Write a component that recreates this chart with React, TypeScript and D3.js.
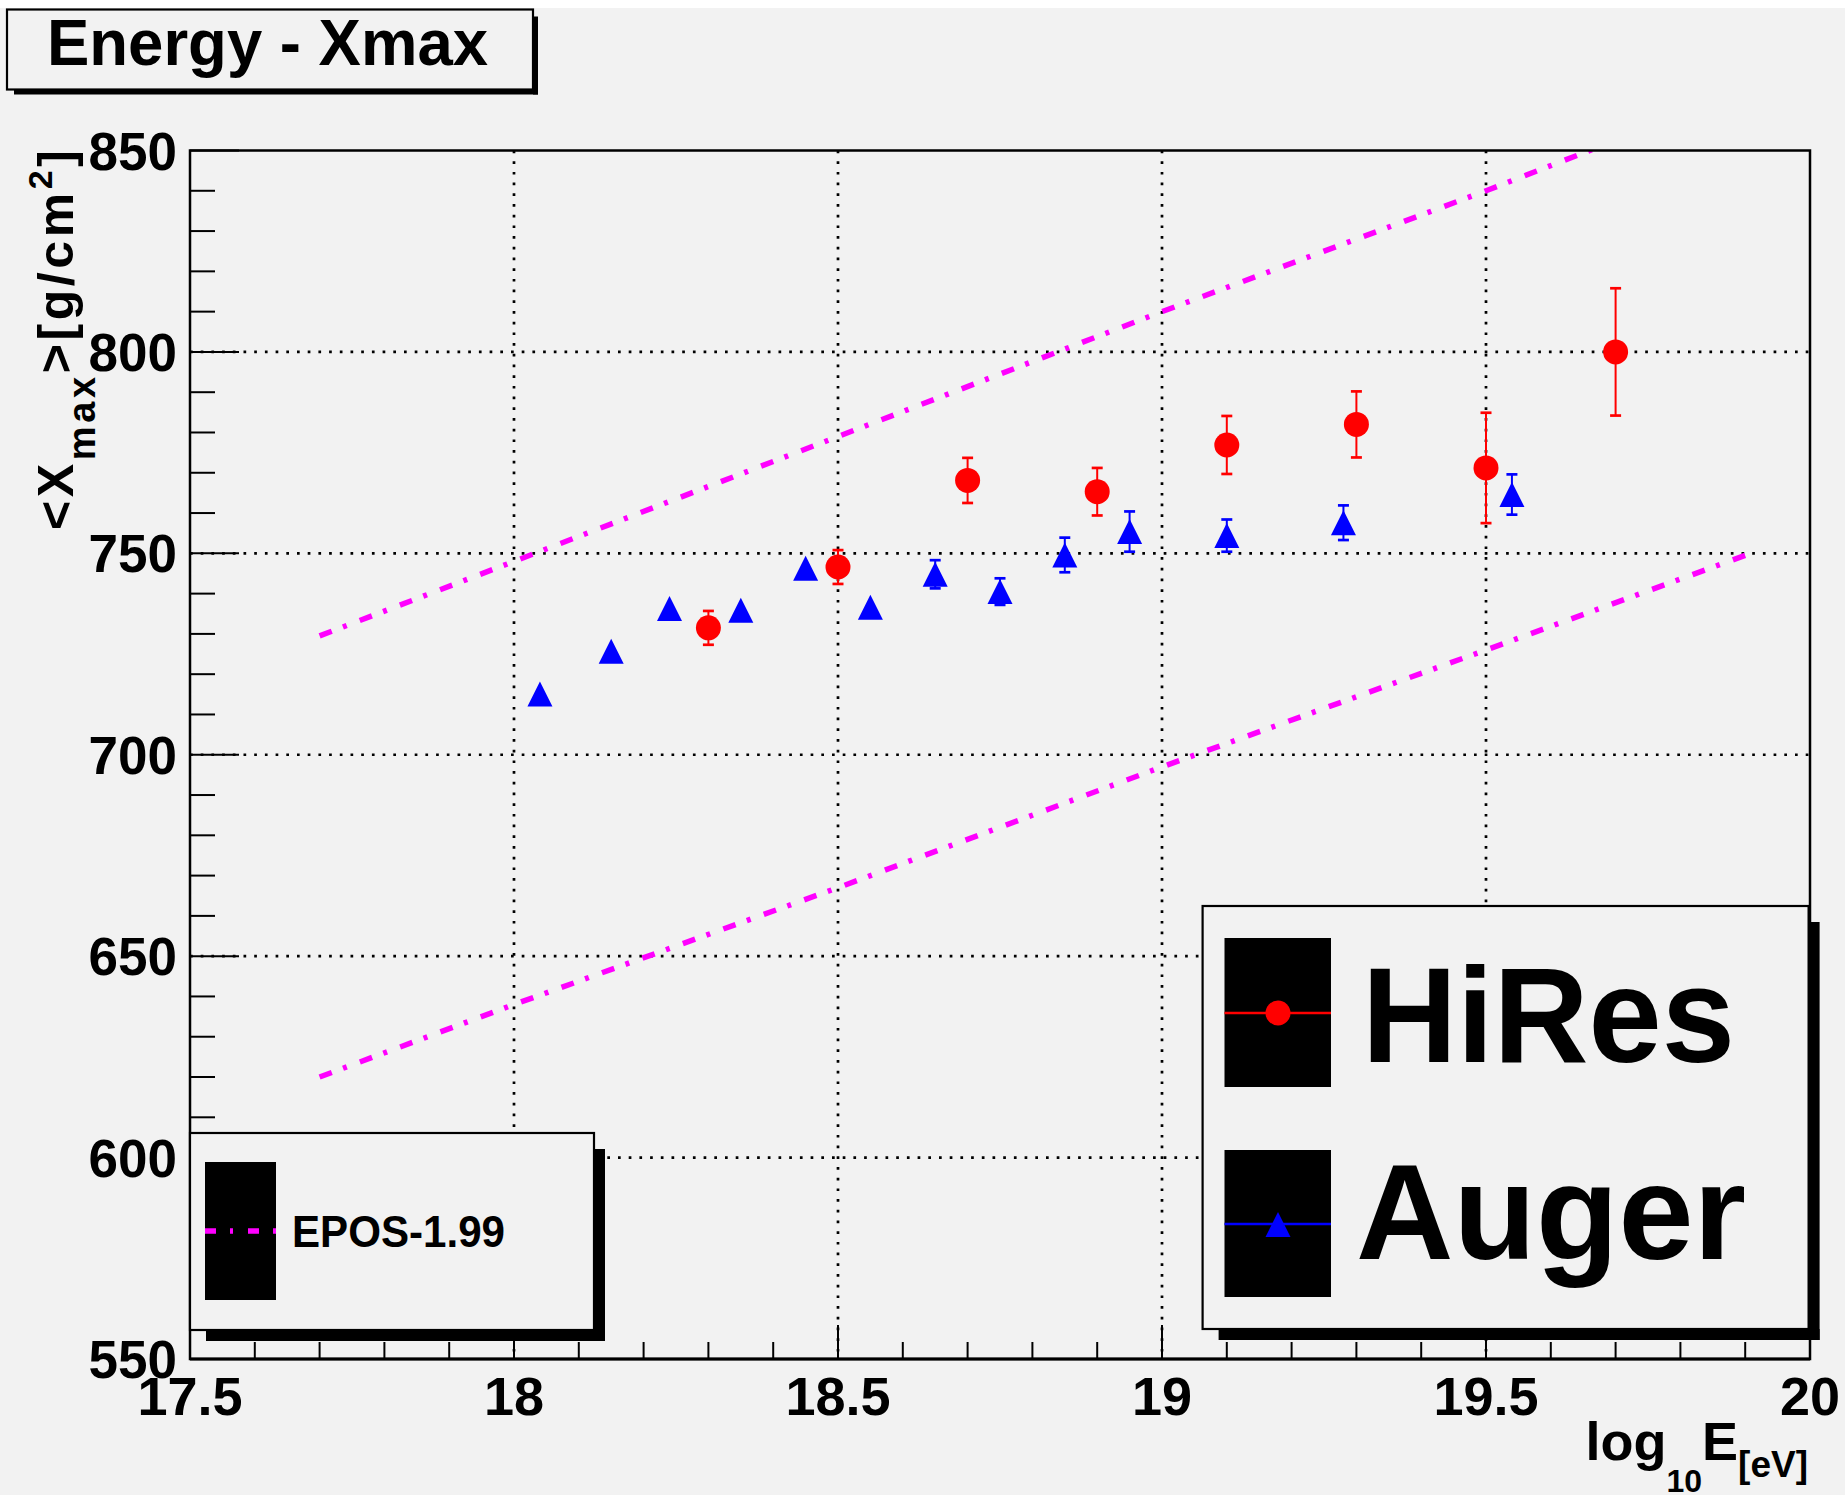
import * as d3 from "d3"

// HiRes <Xmax> vs log10(E)
const hiresE = [18.3, 18.5, 18.7, 18.9, 19.1, 19.3, 19.5, 19.7]
const hiresXmax = [731.5, 746.6, 768.1, 765.3, 776.9, 782.0, 771.2, 800.0]
const hiresErr = [4.2, 4.2, 5.6, 5.9, 7.2, 8.2, 13.7, 15.8]

// Auger <Xmax> vs log10(E)
const augerE = [18.04, 18.15, 18.24, 18.35, 18.45, 18.55, 18.65, 18.75, 18.85, 18.95, 19.1, 19.28, 19.54]
const augerXmax = [715.1, 725.7, 736.3, 735.9, 746.3, 736.6, 744.8, 740.5, 749.6, 755.4, 754.4, 757.6, 764.6]
const augerErr = [2.5, 2.5, 2.5, 2.5, 2.5, 2.5, 3.5, 3.3, 4.3, 5.0, 4.0, 4.3, 5.0]

// EPOS-1.99 predictions (proton upper, iron lower)
const eposE = [17.7, 18.0, 18.5, 19.0, 19.5, 19.9]
const eposProton = [729.5, 748, 779, 810, 840, 865]
const eposIron = [620, 638, 667, 697, 726, 749.5]

const xTickLabels = ["17.5", "18", "18.5", "19", "19.5", "20"]
const yTickLabels = ["550", "600", "650", "700", "750", "800", "850"]

const W = 1845
const H = 1495
const BG = "#f2f2f2"
const FONT = "'Liberation Sans', Arial, Helvetica, sans-serif"
const MAGENTA = "#ff00ff"
const DASHDOT = "13 12 4 14"

const L = 190, R = 1810, T = 150.5, B = 1359
const MS = 12.5 // marker half size

const x = d3.scaleLinear().domain([17.5, 20]).range([L, R])
const y = d3.scaleLinear().domain([550, 850]).range([B, T])

const triangle = (cx: number, cy: number, s: number) =>
    `M${cx},${cy - s}L${cx + s},${cy + s}L${cx - s},${cy + s}Z`

const ErrBar = ({ e, v, err, color }: { e: number, v: number, err: number, color: string }) => {
    const px = x(e)
    const top = y(v + err)
    const bot = y(v - err)
    if (y(v) - top <= MS) return null
    return (
        <g stroke={color}>
            <line x1={px} x2={px} y1={top} y2={bot} strokeWidth={2} />
            <line x1={px - 5.5} x2={px + 5.5} y1={top} y2={top} strokeWidth={2.7} />
            <line x1={px - 5.5} x2={px + 5.5} y1={bot} y2={bot} strokeWidth={2.7} />
        </g>
    )
}

const Shadowed = ({ bx, by, bw, bh, off, start }: { bx: number, by: number, bw: number, bh: number, off: number, start: number }) => (
    <g>
        <rect x={bx + bw} y={by + start} width={off} height={bh - start + off} fill="black" />
        <rect x={bx + start} y={by + bh} width={bw - start + off} height={off} fill="black" />
        <rect x={bx} y={by} width={bw} height={bh} fill={BG} stroke="black" strokeWidth={2.2} />
    </g>
)

export default function App() {
    const line = d3.line<number>().x((_, i) => x(eposE[i])).y((d) => y(d))
    const xMajor = x.ticks(5)
    const xMinor = x.ticks(25)
    const yMajor = y.ticks(6)
    const yMinor = y.ticks(30)
    const isXMajor = (v: number) => Math.abs(v * 2 - Math.round(v * 2)) < 1e-6
    const isYMajor = (v: number) => Math.abs(v / 50 - Math.round(v / 50)) < 1e-6

    return (
        <svg width={W} height={H} style={{ position: "absolute", left: 0, top: 0, display: "block" }} fontFamily={FONT} fontWeight="bold">
            <rect x={0} y={0} width={W} height={H} fill="white" />
            <rect x={0} y={8} width={W} height={H - 8} fill={BG} />
            <defs>
                <clipPath id="frame">
                    <rect x={L} y={T} width={R - L} height={B - T} />
                </clipPath>
            </defs>

            {/* grid */}
            <g stroke="black" strokeWidth={2.7} strokeDasharray="2.7 8">
                {xMajor.filter((v) => v > 17.5 && v < 20).map((v) => (
                    <line key={"gx" + v} x1={x(v)} x2={x(v)} y1={T} y2={B} />
                ))}
                {yMajor.filter((v) => v > 550 && v < 850).map((v) => (
                    <line key={"gy" + v} x1={L} x2={R} y1={y(v)} y2={y(v)} />
                ))}
            </g>

            {/* ticks */}
            <g stroke="black" strokeWidth={2}>
                {xMinor.map((v) => (
                    <line key={"tx" + v} x1={x(v)} x2={x(v)} y1={B} y2={B - (isXMajor(v) ? 34 : 17)} />
                ))}
                {yMinor.map((v) => (
                    <line key={"ty" + v} x1={L} x2={L + (isYMajor(v) ? 49 : 25)} y1={y(v)} y2={y(v)} />
                ))}
            </g>

            {/* EPOS lines */}
            <g clipPath="url(#frame)" fill="none" stroke={MAGENTA} strokeWidth={5.5} strokeDasharray={DASHDOT}>
                <path d={line(eposProton) as string} />
                <path d={line(eposIron) as string} />
            </g>

            {/* Auger */}
            {augerE.map((e, i) => (
                <g key={"a" + i}>
                    <ErrBar e={e} v={augerXmax[i]} err={augerErr[i]} color="#0000ff" />
                    <path d={triangle(x(e), y(augerXmax[i]), MS)} fill="#0000ff" />
                </g>
            ))}

            {/* HiRes */}
            {hiresE.map((e, i) => (
                <g key={"h" + i}>
                    <ErrBar e={e} v={hiresXmax[i]} err={hiresErr[i]} color="#ff0000" />
                    <circle cx={x(e)} cy={y(hiresXmax[i])} r={MS} fill="#ff0000" />
                </g>
            ))}

            {/* frame */}
            <rect x={L} y={T} width={R - L} height={B - T} fill="none" stroke="black" strokeWidth={2.5} />
            <line x1={L} x2={R} y1={B} y2={B} stroke="black" strokeWidth={3} />

            {/* tick labels */}
            <g fontSize={53} textAnchor="end">
                {yMajor.map((v, i) => (
                    <text key={"yl" + v} x={177} y={y(v) + 19}>{yTickLabels[i]}</text>
                ))}
            </g>
            <g fontSize={54} textAnchor="middle">
                {xMajor.map((v, i) => (
                    <text key={"xl" + v} x={x(v)} y={1415}>{xTickLabels[i]}</text>
                ))}
            </g>

            {/* axis titles */}
            <text transform="translate(73,150) rotate(-90)" textAnchor="end" fontSize={50} textLength={380} lengthAdjust="spacing">
                <tspan>&lt;X</tspan>
                <tspan fontSize={38} dy={22}>max</tspan>
                <tspan dy={-22}>&gt;[g/cm</tspan>
                <tspan fontSize={34} dy={-21}>2</tspan>
                <tspan dy={21}>]</tspan>
            </text>
            <text x={1808} y={1460} textAnchor="end" fontSize={54}>
                log
                <tspan fontSize={32} dy={32}>10</tspan>
                <tspan dy={-32}>E</tspan>
                <tspan fontSize={37} dy={17}>[eV]</tspan>
            </text>

            {/* title */}
            <Shadowed bx={7} by={9.5} bw={526} bh={80} off={5} start={7} />
            <text x={47} y={65} fontSize={65} textLength={441} lengthAdjust="spacingAndGlyphs">Energy - Xmax</text>

            {/* EPOS legend */}
            <Shadowed bx={190} by={1133} bw={404} bh={197} off={11} start={16} />
            <rect x={205} y={1162} width={71} height={138} fill="black" />
            <line x1={205} x2={276} y1={1231} y2={1231} stroke={MAGENTA} strokeWidth={5.5} strokeDasharray="11 14 3 15" />
            <text x={292} y={1247} fontSize={44} textLength={213} lengthAdjust="spacingAndGlyphs">EPOS-1.99</text>

            {/* data legend */}
            <Shadowed bx={1202.6} by={906} bw={606} bh={423} off={11} start={16} />
            <rect x={1224.5} y={938} width={106.5} height={149} fill="black" />
            <line x1={1224.5} x2={1331} y1={1013} y2={1013} stroke="#ff0000" strokeWidth={2.5} />
            <circle cx={1278} cy={1013} r={MS} fill="#ff0000" />
            <text x={1362} y={1062} fontSize={136} textLength={373} lengthAdjust="spacingAndGlyphs">HiRes</text>
            <rect x={1224.5} y={1150} width={106.5} height={147} fill="black" />
            <line x1={1224.5} x2={1331} y1={1224} y2={1224} stroke="#0000ff" strokeWidth={2.5} />
            <path d={triangle(1278, 1224.5, MS)} fill="#0000ff" />
            <text x={1356} y={1259} fontSize={136} textLength={390} lengthAdjust="spacingAndGlyphs">Auger</text>
        </svg>
    )
}
